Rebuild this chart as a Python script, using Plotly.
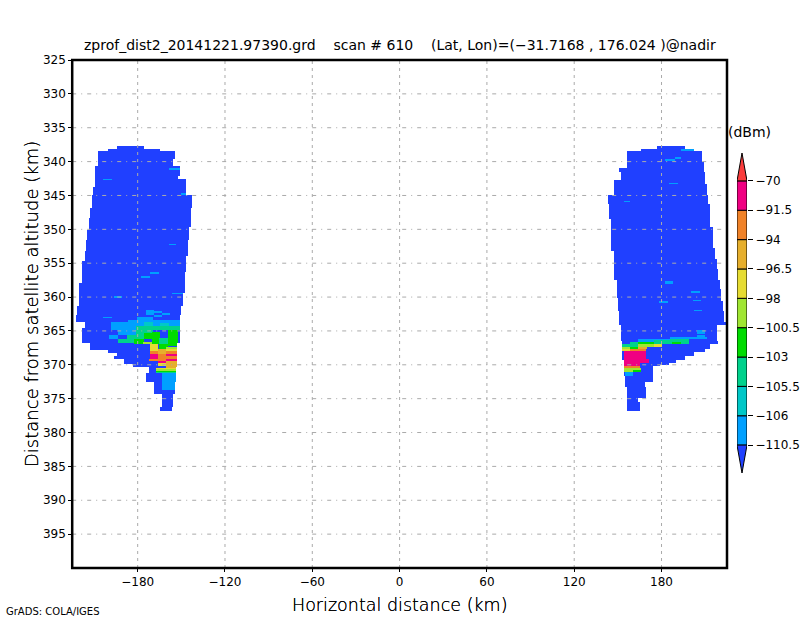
import numpy as np
import plotly.graph_objects as go

# class limits and colours, same order as the GrADS colour bar (bottom to top)
bar_labels = ["\u2212110.5", "\u2212106", "\u2212105.5", "\u2212103", "\u2212100.5", "\u221298", "\u221296.5", "\u221294", "\u221291.5", "\u221270"]
bar_limits = [-110.5, -106, -105.5, -103, -100.5, -98, -96.5, -94, -91.5, -70]
colors = ["#2040ff", "#00a0ff", "#00c8c8", "#00d28c", "#00dc00", "#a0e632",
          "#e6dc32", "#e6af2d", "#f08228", "#f00082", "#fa3c3c"]

x_ticks = [-180, -120, -60, 0, 60, 120, 180]
y_ticks = [325, 330, 335, 340, 345, 350, 355, 360, 365, 370, 375, 380, 385, 390, 395]

# swath outline, left side: depth of each row (km) and its west/east edge (km)
left_depth = [337.65, 337.8, 338.1, 338.5, 339.6, 340.6, 342.1, 342.6, 343.8, 345.0, 346.9, 348.4,
              349.6, 350.1, 351.6, 353.1, 354.0, 354.6, 356.2, 357.9, 359.4, 361.2, 362.6, 363.8,
              364.6, 366.3, 366.8, 367.8, 368.2, 368.7, 369.1, 369.9, 370.4, 371.3, 372.5, 374.4,
              376.2, 376.8]
left_west = [-189.6, -194.4, -200.6, -206.8, -207.5, -208.9, -208.9, -209.5, -210.9, -211.6, -213.0, -213.7,
             -213.7, -214.3, -215.7, -216.4, -216.4, -217.8, -218.5, -219.9, -220.6, -222.0, -222.6, -216.4,
             -217.8, -218.5, -213.0, -200.6, -194.4, -195.8, -189.6, -183.4, -172.4, -173.8, -168.3, -163.5,
             -164.9]
left_east = [-175.9, -175.9, -164.9, -154.6, -156.0, -151.1, -151.8, -147.0, -147.0, -142.9, -143.6, -143.6,
             -145.0, -145.0, -145.6, -145.6, -147.0, -147.0, -147.7, -147.7, -149.1, -150.5, -151.1, -151.1,
             -151.1, -151.1, -153.2, -153.2, -153.2, -153.2, -153.2, -153.2, -153.9, -153.9, -154.6, -156.0,
             -156.6]

# same for the right side
right_depth = [337.65, 337.8, 338.1, 338.4, 340.15, 340.9, 341.5, 342.8, 343.4, 343.7, 344.85, 346.3,
               347.8, 348.5, 349.6, 350.7, 351.2, 352.8, 353.2, 354.4, 355.4, 355.9, 357.5, 358.8,
               360.1, 360.6, 362.05, 363.8, 364.1, 366.5, 367.05, 367.65, 368.1, 368.8, 369.25, 369.7,
               370.0, 370.3, 371.6, 372.5, 373.2, 374.85, 375.45, 376.8]
right_west = [182.0, 177.2, 165.6, 156.0, 156.0, 151.1, 151.8, 147.0, 147.0, 147.7, 142.9, 143.6,
              143.6, 145.0, 145.0, 145.6, 145.6, 145.6, 147.0, 147.0, 147.7, 147.7, 149.1, 149.1,
              149.8, 149.8, 151.1, 151.1, 151.8, 153.2, 153.2, 153.2, 153.2, 153.2, 153.9, 153.9,
              153.9, 153.9, 154.6, 154.6, 156.0, 156.0, 156.6]
right_east = [189.6, 195.8, 202.0, 207.5, 208.9, 208.9, 209.5, 209.5, 210.9, 210.9, 211.6, 213.0,
              213.7, 213.7, 215.0, 215.0, 215.7, 216.4, 216.4, 217.8, 217.8, 218.5, 219.9, 220.6,
              220.6, 221.9, 222.6, 224.0, 217.8, 218.5, 213.0, 210.2, 202.0, 195.8, 189.6, 184.8,
              178.6, 173.8, 173.8, 168.3, 169.7, 163.5, 164.9]

background_dbm = -115

# echoes inside the swath: (x0, x1, depth0, depth1, dBm), later ones overwrite earlier ones
left_cells = [
    (-158.7, -151.1, 340.9, 341.3, -108), (-203.4, -197.9, 342.6, 342.8, -108),
    (-149.8, -141.5, 344.6, 344.95, -108), (-158.7, -153.9, 352.1, 352.4, -108),
    (-171.7, -165.6, 356.3, 356.6, -108), (-177.9, -171.7, 356.9, 357.1, -108),
    (-196.5, -190.3, 359.85, 360.15, -108), (-196.5, -190.3, 361.2, 361.35, -108),
    (-156.6, -149.1, 359.4, 359.55, -108), (-203.4, -197.9, 362.95, 363.1, -108),
    (-174.5, -168.3, 361.9, 362.65, -108), (-168.3, -163.5, 362.05, 362.35, -108),
    (-168.3, -163.5, 362.65, 362.95, -108), (-163.5, -157.3, 362.35, 362.65, -108),
    (-186.9, -180.7, 363.4, 363.7, -108), (-198.5, -151.1, 363.8, 364.85, -108),
    (-180.7, -169.7, 362.95, 363.8, -108), (-169.7, -151.1, 363.4, 363.8, -108),
    (-193.7, -180.7, 364.85, 365.6, -108), (-199.9, -193.7, 365.6, 366.3, -108),
    (-187.6, -180.7, 365.6, 366.3, -108), (-162.8, -153.9, 371.2, 373.7, -108),
    (-175.9, -169.7, 363.7, 364.4, -105.8), (-164.9, -158.7, 363.9, 364.85, -105.8),
    (-181.4, -151.1, 364.3, 364.85, -104), (-181.4, -169.7, 364.85, 365.6, -104),
    (-193.7, -182.7, 366.3, 366.8, -104), (-187.6, -176, 365.6, 366.8, -104),
    (-182.7, -176, 366.2, 366.9, -102),
    (-159.4, -151.8, 364.85, 367.2, -102), (-170.4, -164.9, 365.15, 367.05, -102),
    (-175.9, -170.4, 365.3, 366.3, -102), (-165.6, -159.4, 367.05, 367.65, -102),
    (-165.6, -159.4, 366.0, 367.05, -104), (-176.6, -170.4, 366.6, 367.05, -99),
    (-171.7, -166.2, 367.05, 367.95, -97), (-171.7, -166.2, 367.95, 368.4, -93),
    (-171.7, -166.2, 368.4, 369.1, -85), (-172.4, -166.2, 369.1, 369.4, -93),
    (-166.2, -160.7, 367.65, 368.4, -95), (-166.2, -160.7, 368.4, 369.4, -93),
    (-166.2, -160.7, 369.4, 369.7, -85), (-166.2, -160.7, 369.7, 370.15, -97),
    (-160.7, -153.2, 367.35, 367.65, -99), (-160.7, -153.2, 367.65, 367.95, -97),
    (-160.7, -153.2, 367.95, 368.4, -93), (-160.7, -153.2, 368.4, 368.8, -85),
    (-160.7, -153.2, 368.8, 369.1, -93), (-160.7, -153.2, 369.1, 369.5, -85),
    (-160.7, -153.2, 369.5, 370.45, -95), (-167.6, -153.9, 370.45, 370.65, -97),
    (-167.6, -153.9, 370.65, 370.85, -99), (-167.6, -153.9, 370.85, 371.15, -102),
    (-167.6, -153.9, 371.15, 371.3, -104),
]
right_cells = [
    (193.7, 202.0, 338.1, 338.4, -108), (182.7, 188.9, 339.6, 339.85, -108),
    (188.9, 193.7, 339.4, 339.6, -108), (184.8, 191.0, 343.1, 343.4, -108),
    (153.9, 158.7, 345.9, 346.05, -108), (182.0, 188.2, 357.6, 357.95, -108),
    (200.0, 206.1, 359.1, 359.4, -108), (201.3, 206.8, 360.45, 360.6, -108),
    (177.9, 184.1, 360.6, 360.9, -108), (202.0, 208.2, 361.9, 362.05, -108),
    (204.0, 210.2, 364.85, 365.45, -108), (204.0, 210.2, 365.6, 366.0, -108),
    (186.2, 210.9, 365.9, 366.2, -108), (175.2, 199.2, 366.2, 366.9, -104),
    (175.2, 186.2, 366.2, 366.4, -108), (164.2, 175.2, 366.3, 367.05, -102),
    (164.2, 175.2, 366.3, 366.6, -108), (186.9, 193.0, 366.6, 367.05, -102),
    (158.0, 164.2, 366.6, 367.35, -104), (153.2, 158.0, 366.9, 367.35, -104),
    (175.2, 180.7, 366.9, 367.35, -97), (164.2, 175.2, 367.05, 367.35, -99),
    (158.0, 164.2, 367.35, 367.65, -102), (153.2, 158.0, 367.35, 367.65, -99),
    (164.2, 169.9, 367.35, 367.65, -95), (153.2, 158.0, 367.65, 367.95, -97),
    (158.7, 169.7, 367.65, 367.95, -93), (153.9, 169.7, 367.95, 369.1, -85),
    (153.9, 171.0, 369.1, 369.7, -85), (153.9, 164.9, 369.7, 370.15, -85),
    (153.9, 164.9, 370.15, 370.45, -93), (153.9, 165.6, 370.45, 370.75, -99),
    (153.9, 165.6, 370.75, 371.15, -102), (153.9, 160.0, 370.75, 371.0, -99),
    (154.6, 160.0, 371.0, 371.6, -108),
]

# fine grid, enough to resolve the outline at this image size
x_edges = np.arange(-225, 225.01, 0.5)
y_edges = np.arange(325, 400.01, 0.125)
xc = (x_edges[:-1] + x_edges[1:]) / 2
yc = (y_edges[:-1] + y_edges[1:]) / 2
dbm = np.full((len(yc), len(xc)), np.nan)

for depth, west, east in [(left_depth, left_west, left_east), (right_depth, right_west, right_east)]:
    for i in range(len(west)):
        rows = (yc >= depth[i]) & (yc < depth[i + 1])
        cols = (xc >= west[i]) & (xc < east[i])
        dbm[np.ix_(rows, cols)] = background_dbm

for x0, x1, d0, d1, val in left_cells + right_cells:
    rows = (yc >= d0) & (yc < d1)
    cols = (xc >= x0) & (xc < x1)
    sub = dbm[np.ix_(rows, cols)]
    sub[~np.isnan(sub)] = val
    dbm[np.ix_(rows, cols)] = sub

# to class number, so the colours step exactly like the GrADS shading
z = np.digitize(dbm, bar_limits).astype(float)
z[np.isnan(dbm)] = np.nan

n = len(colors)
colorscale = []
for i, c in enumerate(colors):
    colorscale.append([i / n, c])
    colorscale.append([(i + 1) / n, c])

fig = go.Figure()
fig.add_trace(go.Heatmap(x=x_edges, y=y_edges, z=z, zmin=0, zmax=n, colorscale=colorscale,
                         showscale=False, hoverinfo="skip"))

# GrADS draws the grid on top of the shading
for v in x_ticks:
    fig.add_vline(x=v, line=dict(color="#aaaaaa", width=1, dash="3px,4px"))
for v in y_ticks[1:]:
    fig.add_hline(y=v, line=dict(color="#aaaaaa", width=1, dash="4px,5px,1px,5px"))

# frame centred on the plot edge, the axis lines would sit outside it
fig.add_shape(type="rect", xref="x domain", yref="y domain", x0=0, x1=1, y0=0, y1=1,
              line=dict(color="black", width=2.5), layer="above")

# colour bar, on its own small axes so the boxes stay equal in height
nbox = len(bar_labels) - 1
fig.add_trace(go.Bar(x=[0] * nbox, y=[1] * nbox, base=list(range(nbox)), width=1,
                     marker=dict(color=colors[1:-1], line=dict(color="black", width=1)),
                     xaxis="x2", yaxis="y2", showlegend=False, hoverinfo="skip"))
fig.add_trace(go.Scatter(x=[-0.5, 0, 0.5, -0.5], y=[nbox, nbox + 0.95, nbox, nbox], fill="toself",
                         fillcolor=colors[-1], mode="lines", line=dict(color="black", width=1),
                         xaxis="x2", yaxis="y2", showlegend=False, hoverinfo="skip"))
fig.add_trace(go.Scatter(x=[-0.5, 0, 0.5, -0.5], y=[0, -0.95, 0, 0], fill="toself",
                         fillcolor=colors[0], mode="lines", line=dict(color="black", width=1),
                         xaxis="x2", yaxis="y2", showlegend=False, hoverinfo="skip"))

text_family = "DejaVu Sans"
tick_font = dict(family=text_family, size=12, color="black")
fig.update_layout(
    width=800, height=618, margin=dict(l=0, r=0, t=0, b=0),
    paper_bgcolor="white", plot_bgcolor="white", showlegend=False,
    # automargin off, the default template would push the plot down for the top tick label
    xaxis=dict(domain=[72.2 / 800, 727 / 800], range=[-225, 225], tickvals=x_ticks, showgrid=False,
               zeroline=False, showline=False, automargin=False,
               ticks="outside", ticklen=3, tickcolor="black", tickfont=tick_font),
    yaxis=dict(domain=[50 / 618, 558 / 618], range=[400, 325], tickvals=y_ticks, showgrid=False,
               zeroline=False, showline=False, automargin=False,
               ticks="outside", ticklen=3, tickcolor="black", tickfont=tick_font),
    xaxis2=dict(domain=[737 / 800, 747 / 800], range=[-0.5, 0.5], anchor="y2", visible=False, automargin=False),
    yaxis2=dict(domain=[145 / 618, 465 / 618], range=[-0.95, nbox + 0.95], anchor="x2", side="right",
                tickvals=list(range(nbox + 1)), ticktext=bar_labels, showgrid=False, zeroline=False, automargin=False,
                showline=False, ticks="outside", ticklen=5, tickcolor="black", tickfont=tick_font),
)

def label(text, x, y, size, angle=0, anchor="center", weight=400, shadow="none"):
    fig.add_annotation(text=text, x=(x - 72.2) / 654.8, y=(568 - y) / 508, xref="x domain", yref="y domain",
                       showarrow=False, xanchor=anchor, yanchor="middle", textangle=angle,
                       font=dict(family=text_family, size=size, color="black", weight=weight, shadow=shadow))

label("zprof_dist2_20141221.97390.grd\u00a0\u00a0\u00a0\u00a0scan # 610\u00a0\u00a0\u00a0\u00a0(Lat, Lon)=(\u221231.7168 , 176.024 )@nadir",
      400, 45, 14)
# extra light is the nearest to the thin stroke font, the shadow darkens it back to black
label("Horizontal distance (km)", 400, 605, 17.5, weight=200, shadow="0 0 0.5px black")
label("Distance from satellite altitude (km)", 31, 304, 18, angle=-90, weight=200, shadow="0 0 0.5px black")
label("(dBm)", 749, 132, 14)
label("GrADS: COLA/IGES", 4, 611, 10, anchor="left")

fig.write_html("out.html", config={"displayModeBar": False}, post_script="document.body.style.margin='0';")
